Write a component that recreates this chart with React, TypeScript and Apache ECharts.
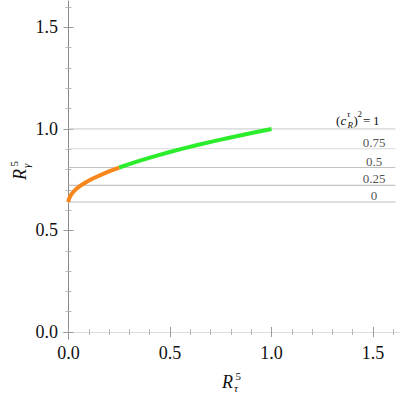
import React, { useEffect, useRef } from "react";
import * as echarts from "echarts";

// ---- data ----
const X_MAJOR = [0, 0.5, 1, 1.5];
const X_MINOR = [0.1, 0.2, 0.3, 0.4, 0.6, 0.7, 0.8, 0.9, 1.1, 1.2, 1.3, 1.4, 1.6];
const Y_MAJOR = [0, 0.5, 1, 1.5];
const Y_MINOR = [0.1, 0.2, 0.3, 0.4, 0.6, 0.7, 0.8, 0.9, 1.1, 1.2, 1.3, 1.4, 1.6];

// curve R_tau^5 (x) vs R_gamma^5 (y), orange part then green part
const ORANGE_X = [0, 0.0004, 0.0009, 0.0025, 0.01, 0.0225, 0.04, 0.0625, 0.09, 0.1225, 0.16, 0.2025, 0.25];
const ORANGE_Y = [0.64, 0.646, 0.65, 0.656, 0.672, 0.689, 0.706, 0.723, 0.74, 0.757, 0.774, 0.792, 0.81];
const GREEN_X = [0.25, 0.3025, 0.36, 0.4225, 0.49, 0.5625, 0.64, 0.7225, 0.81, 0.9025, 1.0];
const GREEN_Y = [0.81, 0.828, 0.846, 0.865, 0.884, 0.903, 0.922, 0.941, 0.96, 0.98, 1.0];

// horizontal reference levels for (c_R^tau)^2
const LEVEL_NAMES = ["1", "0.75", "0.5", "0.25", "0"];
const LEVEL_Y = [1.0, 0.9025, 0.81, 0.7225, 0.64];
const LEVEL_X_START = 0;
const LEVEL_X_END = 1.61;
const LEVEL_LABEL_X = 1.505;

const XMIN = -0.032, XMAX = 1.633;
const YMIN = -0.0345, YMAX = 1.63;

const SERIF = "Times New Roman, Liberation Serif, DejaVu Serif, serif";

export default function App() {
  const ref = useRef<HTMLDivElement>(null);
  useEffect(() => {
    const chart = echarts.init(ref.current!, null, { renderer: "svg" });
    const tickColor = "#9a9a9a";
    const minorColor = "#b8b8b8";
    const xAxis = [
      {
        type: "value", min: XMIN, max: XMAX, position: "bottom",
        axisLine: { show: false },
        axisTick: { show: true, inside: true, length: 5, customValues: X_MAJOR, lineStyle: { color: tickColor } },
        axisLabel: { customValues: X_MAJOR, formatter: (v: number) => v.toFixed(1), fontFamily: SERIF, fontSize: 18, color: "#111", margin: 5 },
        splitLine: { show: false },
      },
      {
        type: "value", min: XMIN, max: XMAX, position: "bottom",
        axisLine: { show: false },
        axisTick: { show: true, inside: true, length: 3, customValues: X_MINOR, lineStyle: { color: minorColor } },
        axisLabel: { show: false }, splitLine: { show: false },
      },
      {
        type: "value", min: XMIN, max: XMAX, position: "top",
        axisLine: { show: true, lineStyle: { color: "#dcdcdc", width: 1 } },
        axisTick: { show: true, inside: true, length: 5, customValues: X_MAJOR, lineStyle: { color: tickColor } },
        axisLabel: { show: false }, splitLine: { show: false },
      },
      {
        type: "value", min: XMIN, max: XMAX, position: "top",
        axisLine: { show: false },
        axisTick: { show: true, inside: true, length: 3, customValues: X_MINOR, lineStyle: { color: minorColor } },
        axisLabel: { show: false }, splitLine: { show: false },
      },
    ];
    const yAxis = [
      {
        type: "value", min: YMIN, max: YMAX, position: "left",
        axisLine: { show: true, lineStyle: { color: "#8a8a8a", width: 1 } },
        axisTick: { show: true, inside: true, length: 5, customValues: Y_MAJOR, lineStyle: { color: tickColor } },
        axisLabel: { customValues: Y_MAJOR, formatter: (v: number) => v.toFixed(1), fontFamily: SERIF, fontSize: 18, color: "#111", margin: 4 },
        splitLine: { show: false },
      },
      {
        type: "value", min: YMIN, max: YMAX, position: "left",
        axisLine: { show: false },
        axisTick: { show: true, inside: true, length: 3, customValues: Y_MINOR, lineStyle: { color: minorColor } },
        axisLabel: { show: false }, splitLine: { show: false },
      },
      {
        type: "value", min: YMIN, max: YMAX, position: "right",
        axisLine: { show: false },
        axisTick: { show: true, inside: true, length: 5, customValues: Y_MAJOR, lineStyle: { color: tickColor } },
        axisLabel: { show: false }, splitLine: { show: false },
      },
      {
        type: "value", min: YMIN, max: YMAX, position: "right",
        axisLine: { show: false },
        axisTick: { show: true, inside: true, length: 3, customValues: Y_MINOR, lineStyle: { color: minorColor } },
        axisLabel: { show: false }, splitLine: { show: false },
      },
    ];

    const levelColors = ["#c8c8c8", "#dcdcdc", "#c2c2c2", "#b4b4b4", "#dedede"];
    const levelWidths = [1, 1, 1, 1, 2];
    const levelSeries = LEVEL_Y.map((v, i) => ({
      type: "line", silent: true, showSymbol: false, z: 1,
      data: [[LEVEL_X_START, v], [LEVEL_X_END, v]],
      lineStyle: { color: levelColors[i], width: levelWidths[i] },
    }));

    const labelSeries = {
      type: "scatter", symbolSize: 0, silent: true, z: 3,
      data: LEVEL_Y.slice(1).map((v, i) => ({ value: [LEVEL_LABEL_X, v], name: LEVEL_NAMES[i + 1] })),
      label: {
        show: true, position: "top", distance: 0,
        formatter: (p: any) => p.name,
        fontFamily: SERIF, fontSize: 13, color: "#222",
      },
    };

    const mkText = (text: string, x: number, y: number, size: number, italic = false) => ({
      type: "text", x, y,
      style: {
        text, fill: "#111",
        fontFamily: SERIF, fontSize: size, fontStyle: italic ? "italic" : "normal",
        textAlign: "left", textVerticalAlign: "middle",
      },
    });

    chart.setOption({
      animation: false,
      backgroundColor: "#fff",
      grid: { left: 62, right: 1, top: 1, bottom: 56, containLabel: false },
      xAxis, yAxis,
      series: [
        ...levelSeries,
        {
          type: "line", showSymbol: false, z: 5, smooth: false,
          data: ORANGE_X.map((x, i) => [x, ORANGE_Y[i]]),
          lineStyle: { color: "#f7861c", width: 4, cap: "butt" },
        },
        {
          type: "line", showSymbol: false, z: 5,
          data: GREEN_X.map((x, i) => [x, GREEN_Y[i]]),
          lineStyle: { color: "#2ced2c", width: 4, cap: "butt" },
        },
        labelSeries,
      ],
      graphic: [
        {
          type: "group", x: 0, y: 0,
          children: [
            mkText("(", 336, 120, 13),
            mkText("c", 340.5, 120, 13, true),
            mkText("τ", 347, 114, 9, true),
            mkText("R", 347.5, 124.5, 9, true),
            mkText(")", 353.5, 120, 13),
            mkText("2", 357.5, 114, 9),
            mkText("=", 363, 120, 13),
            mkText("1", 373, 120, 13),
          ],
        },
        {
          type: "group", x: 222, y: 382,
          children: [
            mkText("R", 0, 0, 18, true),
            mkText("5", 13.5, -6, 11),
            mkText("τ", 12, 6, 11, true),
          ],
        },
        {
          type: "group", x: 20, y: 180, rotation: Math.PI / 2,
          children: [
            mkText("R", 0, 0, 18, true),
            mkText("5", 13.5, -6, 11),
            mkText("γ", 12, 6, 11, true),
          ],
        },
      ],
    });
    return () => chart.dispose();
  }, []);
  return <div ref={ref} style={{ position: "absolute", left: 0, top: 0, width: 401, height: 395 }} />;
}
